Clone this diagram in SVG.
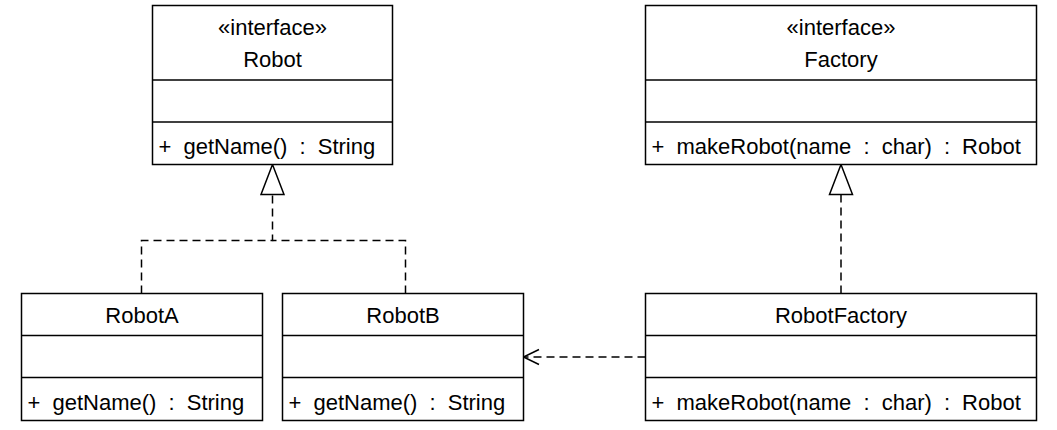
<svg xmlns="http://www.w3.org/2000/svg" width="1057" height="430" viewBox="0 0 1057 430">
<style>
.box{fill:#fff;stroke:#000;stroke-width:1.5}
.sep{stroke:#000;stroke-width:1.5}
text{font-family:"Liberation Sans",Arial,sans-serif;font-size:22px;fill:#000;word-spacing:6px}
.c{text-anchor:middle}
.dash{fill:none;stroke:#000;stroke-width:1.5;stroke-dasharray:8,5}
.tri{fill:#fff;stroke:#000;stroke-width:1.5}
.open{fill:none;stroke:#000;stroke-width:1.5}
</style>
<rect width="1057" height="430" fill="#fff"/>
<g id="connectors">
<path class="dash" d="M141.5,293.5 V240.5 H272.5 V194.5"/>
<path class="dash" d="M405.5,293.5 V240.5 H272.5"/>
<polygon class="tri" points="272.5,164.5 261,194.5 284,194.5"/>
<path class="dash" d="M841,293.5 V194.5"/>
<polygon class="tri" points="841,164.5 829.5,194.5 852.5,194.5"/>
<path class="dash" d="M645.5,357 H525"/>
<path class="open" d="M539,349.5 L523.5,357 L539,364.5"/>
</g>
<g id="Robot">
<rect class="box" x="152.5" y="5.5" width="240" height="159"/>
<line class="sep" x1="152.5" y1="80" x2="392.5" y2="80"/>
<line class="sep" x1="152.5" y1="122" x2="392.5" y2="122"/>
<text class="c" x="272.5" y="35">«interface»</text>
<text class="c" x="272.5" y="66.5">Robot</text>
<text x="158.5" y="154">+ getName() : String</text>
</g>
<g id="Factory">
<rect class="box" x="645.5" y="5.5" width="391" height="159"/>
<line class="sep" x1="645.5" y1="80" x2="1036.5" y2="80"/>
<line class="sep" x1="645.5" y1="122" x2="1036.5" y2="122"/>
<text class="c" x="841" y="35">«interface»</text>
<text class="c" x="841" y="66.5">Factory</text>
<text x="651.5" y="154">+ makeRobot(name : char) : Robot</text>
</g>
<g id="RobotA">
<rect class="box" x="21.5" y="293.5" width="241" height="127"/>
<line class="sep" x1="21.5" y1="335.5" x2="262.5" y2="335.5"/>
<line class="sep" x1="21.5" y1="377.5" x2="262.5" y2="377.5"/>
<text class="c" x="142" y="323">RobotA</text>
<text x="27.5" y="410">+ getName() : String</text>
</g>
<g id="RobotB">
<rect class="box" x="282.5" y="293.5" width="241" height="127"/>
<line class="sep" x1="282.5" y1="335.5" x2="523.5" y2="335.5"/>
<line class="sep" x1="282.5" y1="377.5" x2="523.5" y2="377.5"/>
<text class="c" x="403" y="323">RobotB</text>
<text x="288.5" y="410">+ getName() : String</text>
</g>
<g id="RobotFactory">
<rect class="box" x="645.5" y="293.5" width="391" height="127"/>
<line class="sep" x1="645.5" y1="335.5" x2="1036.5" y2="335.5"/>
<line class="sep" x1="645.5" y1="377.5" x2="1036.5" y2="377.5"/>
<text class="c" x="841" y="323">RobotFactory</text>
<text x="651.5" y="410">+ makeRobot(name : char) : Robot</text>
</g>
</svg>
